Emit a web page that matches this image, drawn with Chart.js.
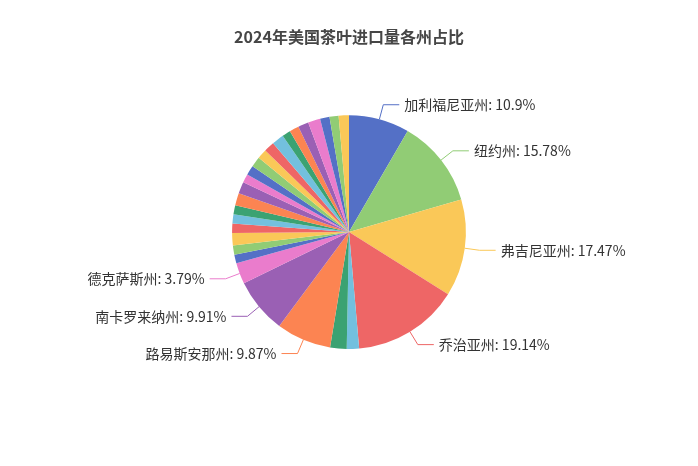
<!DOCTYPE html>
<html>
<head>
<meta charset="utf-8">
<script src="https://cdn.jsdelivr.net/npm/chart.js@4/dist/chart.umd.min.js"></script>
<style>
  html, body { margin: 0; padding: 0; background: #fff; }
  #wrap { width: 698px; height: 466px; }
</style>
</head>
<body>
<div id="wrap"><canvas id="teaChart"></canvas></div>
<script>
"use strict";

// state names, clockwise from the top
var states = [
    '加利福尼亚州', '纽约州', '弗吉尼亚州', '乔治亚州', '华盛顿州', '新泽西州',
    '路易斯安那州', '南卡罗来纳州', '德克萨斯州',
    '伊利诺伊州', '宾夕法尼亚州', '佛罗里达州', '马萨诸塞州', '俄亥俄州',
    '密歇根州', '北卡罗来纳州', '马里兰州', '俄勒冈州', '科罗拉多州',
    '亚利桑那州', '明尼苏达州', '田纳西州', '肯塔基州', '犹他州',
    '康涅狄格州', '印第安纳州', '威斯康星州', '密苏里州', '内华达州',
    '阿拉巴马州'
];

// share of imports (%), as printed on the labels
var shares = [
    10.9, 15.78, 17.47, 19.14, 2.21, 2.97,
    9.87, 9.91, 3.79,
    1.56, 1.67, 2.21, 1.67, 1.67,
    1.63, 2.21, 2.10, 1.56, 1.74,
    1.85, 1.74, 1.88, 2.17, 1.52,
    1.70, 1.88, 2.21, 1.70, 1.63,
    1.85
];

var palette = ['#5470c6', '#91cc75', '#fac858', '#ee6666', '#73c0de',
               '#3ba272', '#fc8452', '#9a60b4', '#ea7ccc'];

var labelMin = 3.5;   // only slices at or above this get an outside label

var sliceColors = shares.map(function (v, i) { return palette[i % palette.length]; });

/*
 * Outside labels with two-segment leader lines
 */
var outsideLabels = {
    id: 'outsideLabels',
    afterDatasetsDraw: function (chart) {
        var ctx = chart.ctx;
        var meta = chart.getDatasetMeta(0);
        ctx.save();
        ctx.font = '14px "Noto Sans CJK SC", sans-serif';
        ctx.textBaseline = 'middle';
        meta.data.forEach(function (arc, i) {
            var val = shares[i];
            if (val < labelMin) {
                return;
            }
            var p = arc.getProps(['x', 'y', 'startAngle', 'endAngle', 'outerRadius'], true);
            var mid = (p.startAngle + p.endAngle) / 2;
            var cos = Math.cos(mid), sin = Math.sin(mid);
            var x0 = p.x + cos * p.outerRadius, y0 = p.y + sin * p.outerRadius;
            var x1 = p.x + cos * (p.outerRadius + 15), y1 = p.y + sin * (p.outerRadius + 15);
            var right = cos >= 0;
            var x2 = x1 + (right ? 16 : -16);

            ctx.strokeStyle = sliceColors[i];
            ctx.lineWidth = 1;
            ctx.beginPath();
            ctx.moveTo(x0, y0);
            ctx.lineTo(x1, y1);
            ctx.lineTo(x2, y1);
            ctx.stroke();

            ctx.fillStyle = '#333';
            ctx.textAlign = right ? 'left' : 'right';
            ctx.fillText(states[i] + ': ' + val + '%', x2 + (right ? 5 : -5), y1);
        });
        ctx.restore();
    }
};

new Chart(document.getElementById('teaChart'), {
    type: 'pie',
    data: {
        labels: states,
        datasets: [{
            data: shares,
            backgroundColor: sliceColors,
            borderWidth: 0
        }]
    },
    options: {
        responsive: true,
        maintainAspectRatio: false,
        animation: false,
        layout: {
            padding: { top: 0, bottom: 117, left: 0, right: 0 }
        },
        plugins: {
            legend: { display: false },
            tooltip: { enabled: false },
            title: {
                display: true,
                text: '2024年美国茶叶进口量各州占比',
                color: '#464646',
                font: { size: 16, weight: 'bold', family: '"Noto Sans CJK SC", sans-serif' },
                padding: { top: 27, bottom: 69 }
            }
        }
    },
    plugins: [outsideLabels]
});
</script>
</body>
</html>
